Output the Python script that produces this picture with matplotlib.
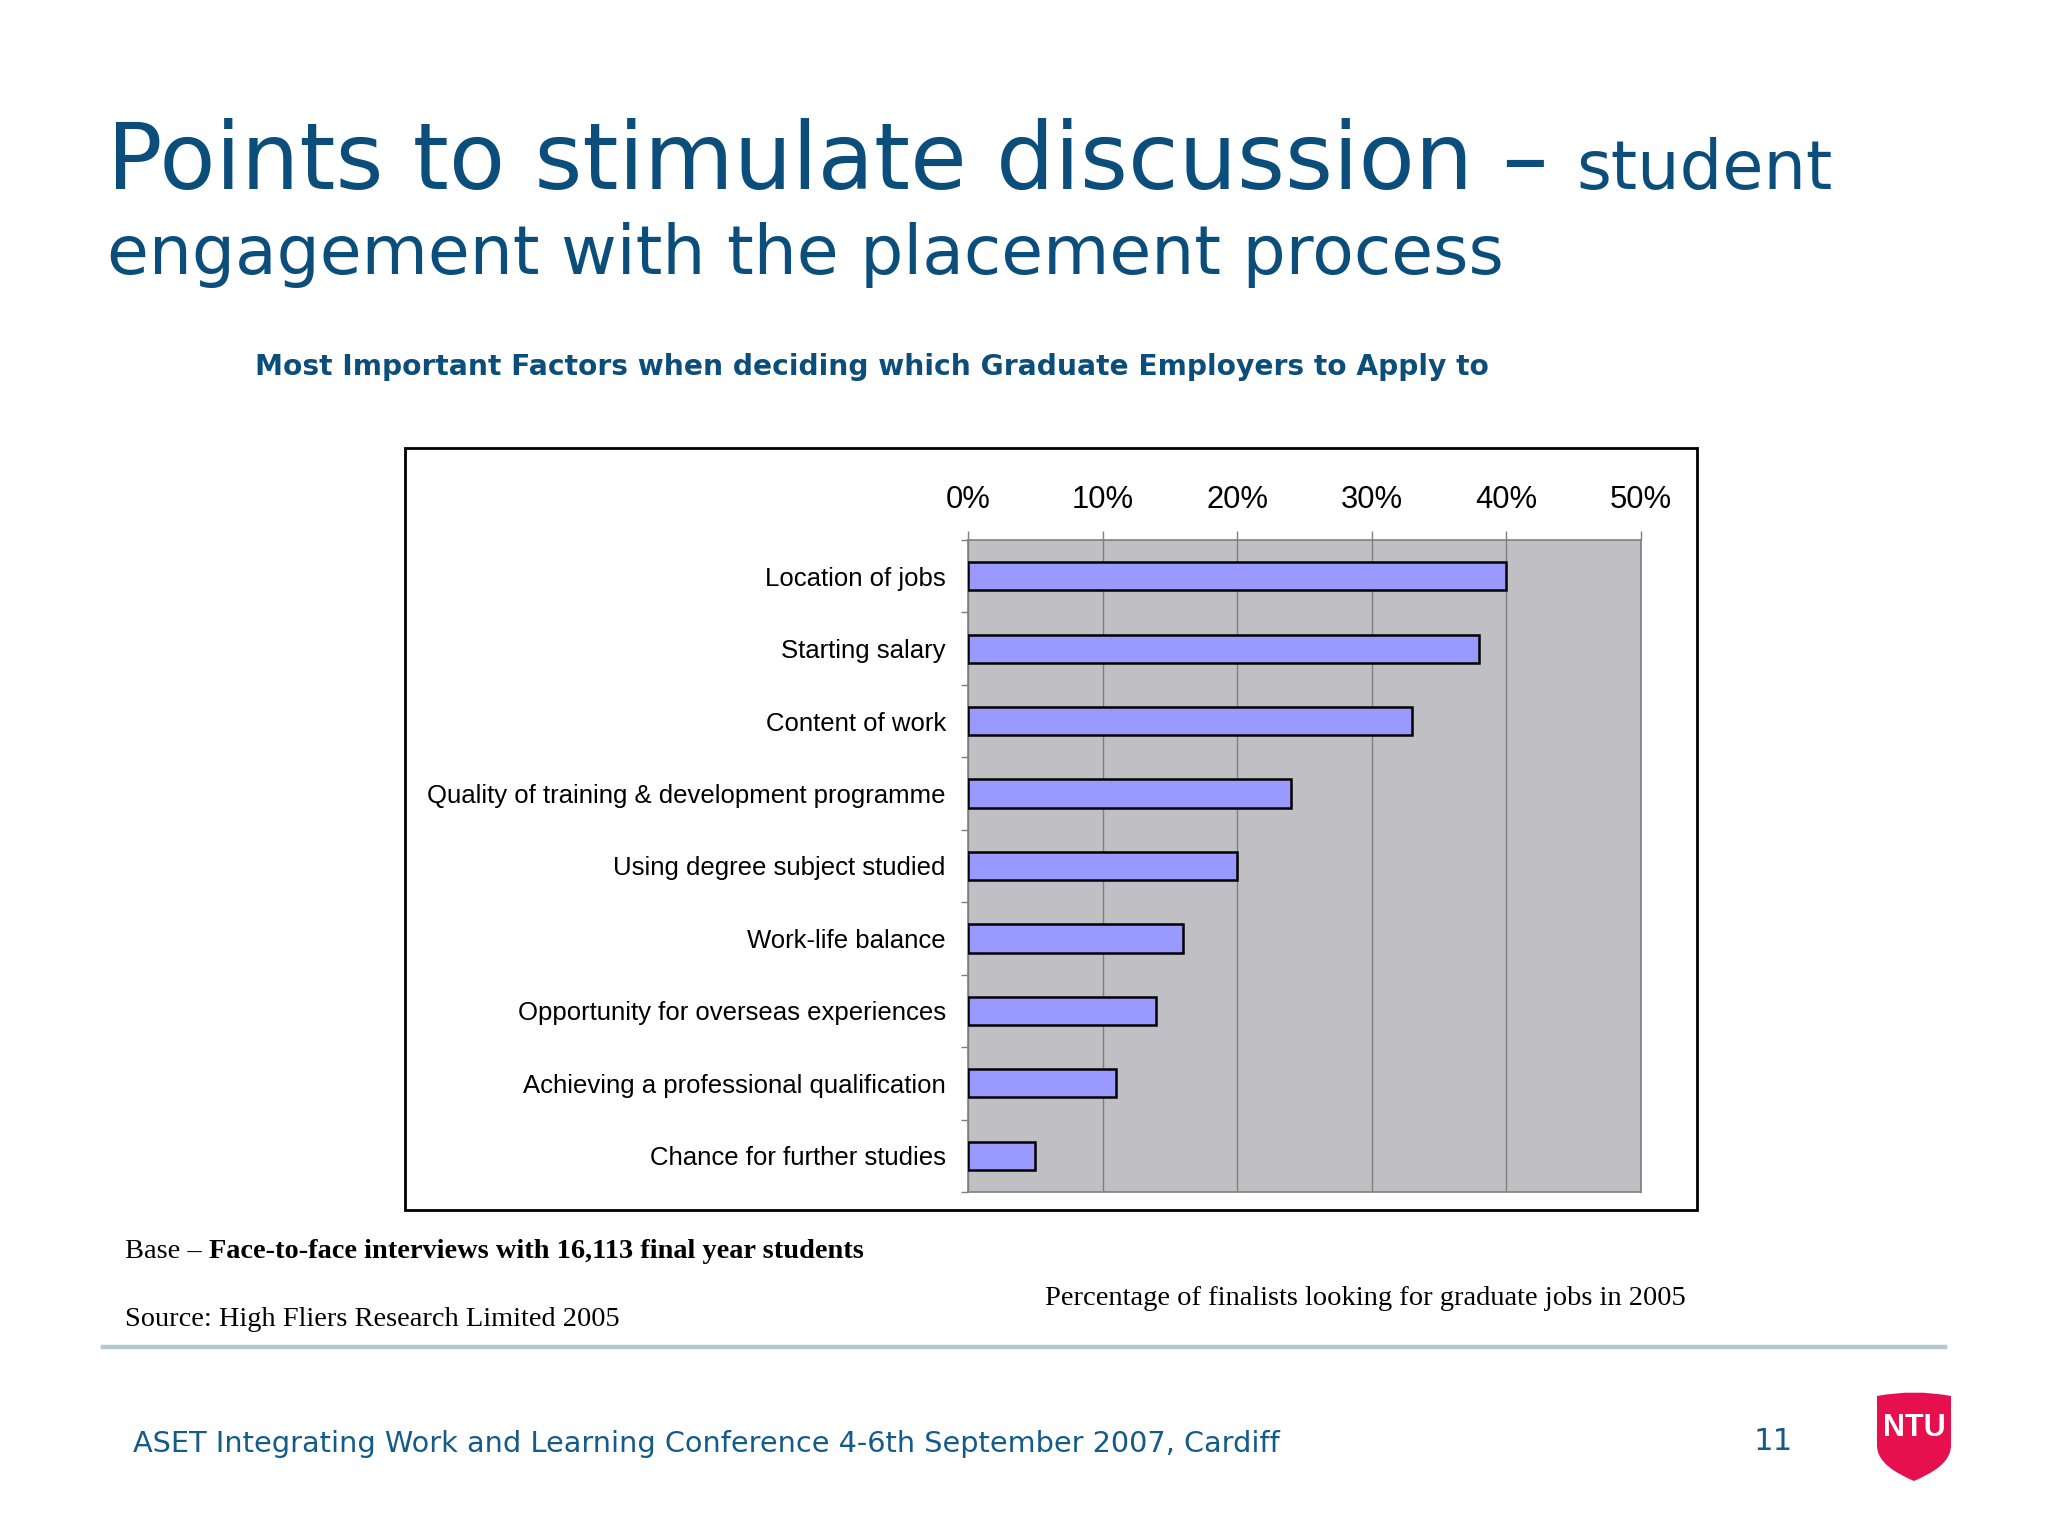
import matplotlib
matplotlib.use("Agg")
import matplotlib.pyplot as plt
import numpy as np
from matplotlib.patches import Rectangle, PathPatch
from matplotlib.path import Path
from matplotlib.lines import Line2D

# ---------------- data ----------------
categories = [
    "Location of jobs",
    "Starting salary",
    "Content of work",
    "Quality of training & development programme",
    "Using degree subject studied",
    "Work-life balance",
    "Opportunity for overseas experiences",
    "Achieving a professional qualification",
    "Chance for further studies",
]
values = [40, 38, 33, 24, 20, 16, 14, 11, 5]
x_ticks = [0, 10, 20, 30, 40, 50]
x_tick_labels = ["0%", "10%", "20%", "30%", "40%", "50%"]

title_main = "Points to stimulate discussion \u2013"
title_tail = "student"
title_line2 = "engagement with the placement process"
subtitle = "Most Important Factors when deciding which Graduate Employers to Apply to"
base_reg = "Base \u2013 "
base_bold = "Face-to-face interviews with 16,113 final year students"
source_txt = "Source: High Fliers Research Limited 2005"
axis_note = "Percentage of finalists looking for graduate jobs in 2005"
footer = "ASET Integrating Work and Learning Conference 4-6th September 2007, Cardiff"
page_no = "11"

# ---------------- styles ----------------
W, H = 2048, 1536
DPI = 100
BLUE = "#0C4E7B"
FOOT_BLUE = "#155B8A"
PLOT_GRAY = "#C0BFC3"
BAR = "#9999FF"
GRID = "#7F7F7F"
RED = "#E6104E"

fig = plt.figure(figsize=(W / DPI, H / DPI), dpi=DPI)
fig.patch.set_facecolor("white")
renderer = fig.canvas.get_renderer()


def fx(x):
    return x / W


def fy(y):
    return 1 - y / H


def fit_size(s, target_w, **kw):
    t = fig.text(0, 0, s, fontsize=40, **kw)
    w = t.get_window_extent(renderer).width
    t.remove()
    return 40 * target_w / w


def put(x, y, s, target_w=None, size=None, **kw):
    if size is None:
        size = fit_size(s, target_w, **kw)
    t = fig.text(fx(x), fy(y), s, fontsize=size, va="baseline", ha=kw.pop("ha", "left"), **kw)
    return t, size


# ---------------- titles ----------------
put(107, 189, title_main, 1441, family="DejaVu Sans", color=BLUE)
put(1576, 189, title_tail, 256, family="DejaVu Sans", color=BLUE)
put(107, 274, title_line2, 1395, family="DejaVu Sans", color=BLUE)
put(255, 375, subtitle, 1231, family="DejaVu Sans", weight="bold", color=BLUE)

# ---------------- chart frame ----------------
fig.patches.append(Rectangle((fx(405), fy(1210)), (1697 - 405) / W, (1210 - 448) / H,
                             transform=fig.transFigure, facecolor="white",
                             edgecolor="black", linewidth=2.0, zorder=-1))

ax = fig.add_axes([fx(968), fy(1192), (1641 - 968) / W, (1192 - 540) / H])
ax.set_zorder(1)
ax.set_facecolor(PLOT_GRAY)
y = np.arange(len(categories))
ax.barh(y, values, height=0.39, color=BAR, edgecolor="black", linewidth=1.8, zorder=3)
ax.set_xlim(0, 50)
ax.set_ylim(len(categories) - 0.5, -0.5)

ax.xaxis.tick_top()
ax.set_xticks(x_ticks)
xlab_size = fit_size("50%", 62, family="Liberation Sans")
ax.set_xticklabels(x_tick_labels, fontsize=xlab_size, family="Liberation Sans")
ax.tick_params(axis="x", which="major", direction="out", length=6.5, width=1.0,
               color=GRID, pad=11.5)
ax.grid(axis="x", color=GRID, linewidth=1.0, zorder=1)
ax.set_axisbelow(True)

ylab_size = fit_size(categories[3], 517, family="Liberation Sans")
ax.set_yticks(y)
ax.set_yticklabels(categories, fontsize=ylab_size, family="Liberation Sans")
ax.set_yticks(np.arange(len(categories) + 1) - 0.5, minor=True)
ax.tick_params(axis="y", which="major", length=0, pad=16)
ax.tick_params(axis="y", which="minor", direction="out", length=5, width=1.0, color=GRID)

for sp in ax.spines.values():
    sp.set_color(GRID)
    sp.set_linewidth(1.2)

# ---------------- notes ----------------
_, src_size = put(125, 1326, source_txt, 494, family="Liberation Serif", color="black")
tb, _ = put(125, 1258, base_reg, size=src_size, family="Liberation Serif", color="black")
bx = tb.get_window_extent(renderer).x1
put(bx, 1258, base_bold, size=src_size, family="Liberation Serif", weight="bold", color="black")
put(1045, 1305, axis_note, 640, family="Liberation Serif", color="black")

fig.add_artist(Line2D([fx(103), fx(1945)], [fy(1347), fy(1347)], transform=fig.transFigure,
                      color="#B5C9D3", linewidth=3.2))

# ---------------- footer ----------------
put(133, 1452, footer, 1143, family="DejaVu Sans", color=FOOT_BLUE)
put(1754, 1450, page_no, 39, family="DejaVu Sans", color=FOOT_BLUE)

# NTU shield logo
pts = [(1877, 1396), (1914, 1389), (1951, 1396), (1951, 1445),
       (1951, 1463), (1932, 1473), (1914, 1481),
       (1896, 1473), (1877, 1463), (1877, 1445), (1877, 1396)]
codes = [Path.MOVETO, Path.CURVE3, Path.CURVE3, Path.LINETO,
         Path.CURVE4, Path.CURVE4, Path.CURVE4,
         Path.CURVE4, Path.CURVE4, Path.CURVE4, Path.CLOSEPOLY]
shield = Path([(fx(a), fy(b)) for a, b in pts], codes)
fig.patches.append(PathPatch(shield, transform=fig.transFigure, facecolor=RED,
                             edgecolor="none", zorder=2))
fig.text(fx(1914), fy(1436), "NTU", fontsize=22, family="Liberation Sans",
         weight="bold", color="white", ha="center", va="baseline", zorder=3)

fig.savefig("out.png", dpi=DPI, facecolor="white")
